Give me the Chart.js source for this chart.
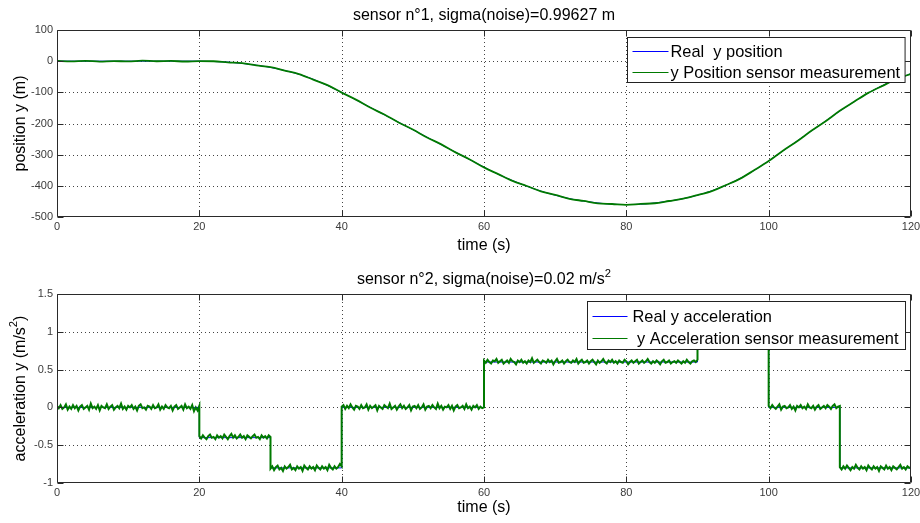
<!DOCTYPE html>
<html>
<head>
<meta charset="utf-8">
<title>Sensor simulation</title>
<script src="https://cdn.jsdelivr.net/npm/chart.js@4.4.1/dist/chart.umd.min.js"></script>
<style>
  html, body { margin: 0; padding: 0; background: #fff; }
  #wrap { position: relative; width: 920px; height: 523px; }
  canvas { position: absolute; left: 0; }
  #posChart { top: 0; }
  #accChart { top: 262px; }
</style>
</head>
<body>
<div id="wrap">
  <canvas id="posChart" width="920" height="262"></canvas>
  <canvas id="accChart" width="920" height="261"></canvas>
</div>
<script>
// ---- sensor 1 : y position (m), one sample every 2 s ----
const posStep = 2;
const posReal = [
  0, 0, 0, 0, 0, 0, 0, 0, 0, 0, 0,
  -1, -3, -7, -13, -20, -30, -42, -58, -78, -100,
  -124, -148, -172, -196, -220, -244, -268, -292, -316, -340,
  -363, -383, -401, -417, -430, -441, -449, -455, -459, -460,
  -459, -455, -449, -441, -430, -416, -398, -376, -350, -320,
  -288, -256, -224, -192, -160, -130, -102, -78, -58, -40
];
const posMeasured = [
  0.8, -0.6, 1.1, -1.3, 0.4, -0.9, 1.5, -0.2, 0.7, -1.1, 0.3,
  -0.2, -3.9, -6.5, -13.6, -19.1, -30.4, -41.7, -59.2, -76.9, -100.8,
  -123.3, -148.9, -171.2, -196.7, -219.4, -244.8, -267.1, -292.6, -315.3, -340.9,
  -362.4, -384.1, -400.5, -417.6, -429.2, -441.5, -448.6, -456.1, -458.3, -460.8,
  -458.1, -455.9, -448.7, -441.4, -429.6, -416.7, -397.4, -376.8, -349.3, -320.6,
  -287.4, -256.9, -223.5, -192.7, -159.4, -130.3, -101.8, -79.1, -57.2, -40.6
];

// ---- sensor 2 : y acceleration (m/s^2) ----
// command switches at these times, level holds until the next switch
const accSwitchTimes = [0, 20, 30, 40, 60, 90, 100, 110, 120];
const accReal = [0, -0.4, -0.8, 0, 0.6, 1, 0, -0.8, -0.8];
// noisy readings, every 0.25 s inside each constant-command interval
const accMeasured = [
  [0.02, -0.01, 0.03, -0.02, 0.00, 0.04, -0.03, 0.01, -0.02, 0.03,
   -0.01, 0.02, -0.04, 0.01, 0.03, -0.02, 0.00, 0.02, -0.03, 0.05,
   -0.01, 0.01, -0.02, 0.03, -0.04, 0.02, 0.00, -0.01, 0.04, -0.02,
   0.01, 0.03, -0.03, 0.00, 0.02, -0.01, 0.05, -0.02, 0.01, -0.03,
   0.02, 0.00, 0.03, -0.02, 0.01, -0.04, 0.02, 0.04, -0.01, 0.00,
   -0.03, 0.02, 0.01, -0.02, 0.03, -0.01, 0.00, 0.04, -0.03, 0.01,
   -0.02, 0.03, 0.00, -0.01, 0.02, -0.04, 0.01, 0.03, -0.02, 0.00,
   0.02, -0.03, 0.04, -0.01, 0.01, -0.02, 0.03, -0.05, 0.00, -0.04, 0.02],
  [-0.38, -0.41, -0.37, -0.40, -0.42, -0.38, -0.36, -0.40, -0.39, -0.42,
   -0.37, -0.40, -0.38, -0.41, -0.36, -0.39, -0.42, -0.38, -0.35, -0.40,
   -0.37, -0.41, -0.39, -0.36, -0.40, -0.38, -0.42, -0.37, -0.39, -0.41,
   -0.38, -0.36, -0.40, -0.39, -0.42, -0.37, -0.40, -0.38, -0.41, -0.37, -0.39],
  [-0.81, -0.78, -0.83, -0.79, -0.77, -0.82, -0.80, -0.84, -0.78, -0.81,
   -0.79, -0.76, -0.82, -0.80, -0.83, -0.78, -0.81, -0.79, -0.84, -0.77,
   -0.80, -0.82, -0.78, -0.81, -0.79, -0.83, -0.77, -0.80, -0.82, -0.78,
   -0.81, -0.79, -0.83, -0.76, -0.80, -0.82, -0.78, -0.81, -0.79, -0.75, -0.78],
  [0.01, 0.03, -0.02, 0.02, -0.01, 0.04, 0.00, -0.03, 0.02, 0.01,
   -0.02, 0.03, -0.01, 0.00, 0.04, -0.03, 0.02, -0.01, 0.01, 0.03,
   -0.04, 0.02, 0.00, -0.02, 0.03, 0.01, -0.01, 0.05, -0.02, 0.00,
   0.02, -0.03, 0.01, 0.04, -0.01, 0.02, -0.02, 0.00, 0.03, -0.04,
   0.01, 0.02, -0.01, 0.03, -0.02, 0.00, 0.04, -0.03, 0.01, 0.02,
   -0.01, 0.03, 0.00, -0.02, 0.05, -0.01, 0.02, -0.03, 0.01, 0.00,
   0.03, -0.02, 0.02, -0.04, 0.01, 0.03, -0.01, 0.00, 0.02, -0.02,
   0.04, -0.01, 0.01, -0.03, 0.02, 0.00, 0.03, -0.02, 0.01, -0.01, 0.00],
  [0.62, 0.59, 0.63, 0.60, 0.58, 0.62, 0.61, 0.64, 0.59, 0.61,
   0.63, 0.58, 0.60, 0.62, 0.59, 0.64, 0.61, 0.60, 0.57, 0.62,
   0.60, 0.63, 0.59, 0.61, 0.58, 0.62, 0.60, 0.65, 0.59, 0.61,
   0.63, 0.60, 0.58, 0.62, 0.61, 0.59, 0.63, 0.60, 0.62, 0.57,
   0.61, 0.64, 0.59, 0.60, 0.62, 0.58, 0.61, 0.63, 0.60, 0.59,
   0.62, 0.60, 0.64, 0.58, 0.61, 0.63, 0.59, 0.60, 0.62, 0.58,
   0.61, 0.63, 0.60, 0.57, 0.62, 0.59, 0.61, 0.64, 0.60, 0.58,
   0.62, 0.60, 0.63, 0.59, 0.61, 0.58, 0.62, 0.60, 0.59, 0.63,
   0.61, 0.57, 0.60, 0.62, 0.59, 0.61, 0.63, 0.58, 0.60, 0.62,
   0.59, 0.61, 0.64, 0.60, 0.58, 0.61, 0.59, 0.62, 0.60, 0.57,
   0.61, 0.63, 0.59, 0.60, 0.62, 0.58, 0.60, 0.61, 0.59, 0.62,
   0.60, 0.58, 0.61, 0.59, 0.63, 0.60, 0.58, 0.61, 0.62, 0.60, 0.63],
  [1.02, 0.99, 1.03, 0.98, 1.01, 0.97, 1.02, 1.00, 0.98, 1.03,
   0.99, 1.01, 0.97, 1.02, 1.00, 0.98, 1.01, 1.03, 0.99, 1.00,
   1.02, 0.98, 1.01, 0.99, 1.03, 0.97, 1.00, 1.02, 0.99, 1.01,
   0.98, 1.02, 1.00, 0.97, 1.01, 0.99, 1.03, 1.00, 0.98, 1.01, 0.99],
  [0.02, -0.01, 0.03, 0.00, -0.02, 0.01, 0.04, -0.03, 0.01, 0.02,
   -0.01, 0.00, 0.03, -0.02, 0.01, -0.04, 0.02, 0.00, 0.03, -0.01,
   0.01, -0.02, 0.04, 0.00, -0.01, 0.02, -0.03, 0.01, 0.03, -0.02,
   0.00, 0.02, -0.01, 0.03, 0.01, -0.02, 0.02, 0.04, -0.01, 0.01, 0.02],
  [-0.79, -0.82, -0.78, -0.81, -0.77, -0.80, -0.83, -0.79, -0.81, -0.76,
   -0.80, -0.82, -0.78, -0.81, -0.79, -0.83, -0.77, -0.80, -0.82, -0.78,
   -0.81, -0.79, -0.84, -0.78, -0.80, -0.82, -0.77, -0.81, -0.79, -0.83,
   -0.78, -0.80, -0.82, -0.79, -0.76, -0.81, -0.79, -0.82, -0.78, -0.80, -0.79]
];

const FONT = '"Liberation Sans", Arial, Helvetica, sans-serif';
const BLUE = '#0000ff';
const GREEN = '#007a00';

// build {x,y} points
const posRealPts = posReal.map((v, i) => ({ x: i * posStep, y: v }));
const posMeasPts = posMeasured.map((v, i) => ({ x: i * posStep, y: v }));
const accRealPts = accReal.map((v, i) => ({ x: accSwitchTimes[i], y: v }));
const accMeasPts = [];
accMeasured.forEach((seg, k) => {
  const t0 = accSwitchTimes[k], t1 = accSwitchTimes[k + 1];
  seg.forEach((v, i) => accMeasPts.push({ x: t0 + i * (t1 - t0) / (seg.length - 1), y: v }));
});

// text made of plain and superscript pieces
function richWidth(ctx, parts, size) {
  let w = 0;
  parts.forEach(p => {
    ctx.font = (p.sup ? size * 0.7 : size) + 'px ' + FONT;
    w += ctx.measureText(p.text).width;
  });
  return w;
}
function drawRich(ctx, parts, x, y, size, align) {
  const w = richWidth(ctx, parts, size);
  let cx = align === 'center' ? x - w / 2 : align === 'right' ? x - w : x;
  ctx.textAlign = 'left';
  parts.forEach(p => {
    ctx.font = (p.sup ? size * 0.7 : size) + 'px ' + FONT;
    ctx.fillText(p.text, cx, p.sup ? y - size * 0.45 : y);
    cx += ctx.measureText(p.text).width;
  });
}

// MATLAB-like axes box: dotted grid, inner ticks, labels, boxed legend
const figureDecor = {
  id: 'figureDecor',
  beforeDatasetsDraw(chart) {
    const { ctx, chartArea: a, scales: { x, y } } = chart;
    ctx.save();
    ctx.strokeStyle = '#444';
    ctx.lineWidth = 1;
    ctx.setLineDash([1, 3]);
    ctx.beginPath();
    x.ticks.forEach(t => {
      if (t.value <= x.min || t.value >= x.max) return;
      const px = Math.round(x.getPixelForValue(t.value)) + 0.5;
      ctx.moveTo(px, a.top); ctx.lineTo(px, a.bottom);
    });
    y.ticks.forEach(t => {
      if (t.value <= y.min || t.value >= y.max) return;
      const py = Math.round(y.getPixelForValue(t.value)) + 0.5;
      ctx.moveTo(a.left, py); ctx.lineTo(a.right, py);
    });
    ctx.stroke();
    ctx.restore();
  },
  afterDatasetsDraw(chart, args, o) {
    const { ctx, chartArea: a, scales: { x, y } } = chart;
    const L = Math.round(a.left) + 0.5, R = Math.round(a.right) - 0.5;
    const T = Math.round(a.top) + 0.5, B = Math.round(a.bottom) - 0.5;
    ctx.save();
    // frame and ticks
    ctx.strokeStyle = '#2a2a2a';
    ctx.lineWidth = 1;
    ctx.beginPath();
    ctx.rect(L, T, R - L, B - T);
    const tl = 6;
    x.ticks.forEach(t => {
      const px = Math.round(x.getPixelForValue(t.value)) + 0.5;
      ctx.moveTo(px, B); ctx.lineTo(px, B - tl);
      ctx.moveTo(px, T); ctx.lineTo(px, T + tl);
    });
    y.ticks.forEach(t => {
      const py = Math.round(y.getPixelForValue(t.value)) + 0.5;
      ctx.moveTo(L, py); ctx.lineTo(L + tl, py);
      ctx.moveTo(R, py); ctx.lineTo(R - tl, py);
    });
    ctx.stroke();

    // tick labels
    ctx.fillStyle = '#3a3a3a';
    ctx.font = '11px ' + FONT;
    ctx.textBaseline = 'middle';
    ctx.textAlign = 'center';
    x.ticks.forEach(t => ctx.fillText(t.label, x.getPixelForValue(t.value), a.bottom + 10));
    ctx.textAlign = 'right';
    y.ticks.forEach(t => ctx.fillText(t.label, a.left - 4, y.getPixelForValue(t.value)));

    // title and axis labels
    ctx.fillStyle = '#000';
    ctx.textBaseline = 'alphabetic';
    const cx = (a.left + a.right) / 2;
    drawRich(ctx, o.title, cx, a.top - 10, 16, 'center');
    drawRich(ctx, o.xLabel, cx, a.bottom + o.xLabelGap, 16, 'center');
    ctx.save();
    ctx.translate(o.yLabelX, (a.top + a.bottom) / 2);
    ctx.rotate(-Math.PI / 2);
    ctx.textBaseline = 'middle';
    drawRich(ctx, o.yLabel, 0, 0, 16, 'center');
    ctx.restore();

    // legend box in the upper right corner
    const lg = o.legend;
    ctx.font = '16.4px ' + FONT;
    const textW = Math.max(...chart.data.datasets.map(d => ctx.measureText(d.label).width));
    const w = lg.padL + lg.sample + lg.gap + textW + lg.padR;
    const x0 = Math.round(a.right - lg.right - w) + 0.5;
    const y0 = Math.round(a.top + lg.top) + 0.5;
    ctx.fillStyle = '#fff';
    ctx.fillRect(x0, y0, w, lg.height);
    ctx.strokeStyle = '#222';
    ctx.strokeRect(x0, y0, w, lg.height);
    ctx.textBaseline = 'middle';
    ctx.textAlign = 'left';
    lg.order.forEach((di, row) => {
      const ds = chart.data.datasets[di];
      const ry = Math.round(y0 + lg.rows[row]) + 0.5;
      ctx.strokeStyle = ds.borderColor;
      ctx.lineWidth = 1;
      ctx.beginPath();
      ctx.moveTo(x0 + lg.padL, ry);
      ctx.lineTo(x0 + lg.padL + lg.sample, ry);
      ctx.stroke();
      ctx.fillStyle = '#000';
      ctx.fillText(ds.label, x0 + lg.padL + lg.sample + lg.gap, ry + 1);
    });
    ctx.restore();
  }
};

function makeChart(id, cfg) {
  return new Chart(document.getElementById(id), {
    type: 'line',
    data: { datasets: cfg.datasets },
    plugins: [figureDecor],
    options: {
      responsive: false,
      animation: false,
      events: [],
      layout: { padding: { top: cfg.top, right: 9, bottom: 0, left: 0 } },
      elements: { point: { radius: 0 } },
      plugins: {
        legend: { display: false },
        tooltip: { enabled: false },
        figureDecor: cfg.decor
      },
      scales: {
        x: {
          type: 'linear', min: 0, max: 120,
          ticks: { stepSize: 20, display: false, callback: v => String(v) },
          grid: { display: false, drawTicks: false },
          border: { display: false },
          afterFit: s => { s.height = cfg.xAxisHeight; }
        },
        y: {
          type: 'linear', min: cfg.yMin, max: cfg.yMax,
          ticks: { stepSize: cfg.yStep, display: false, callback: v => String(v) },
          grid: { display: false, drawTicks: false },
          border: { display: false },
          afterFit: s => { s.width = 57; }
        }
      }
    }
  });
}

makeChart('posChart', {
  top: 30, xAxisHeight: 45, yMin: -500, yMax: 100, yStep: 100,
  datasets: [
    { label: 'Real  y position', data: posRealPts, borderColor: BLUE, borderWidth: 1,
      cubicInterpolationMode: 'monotone', order: 1 },
    { label: 'y Position sensor measurement', data: posMeasPts, borderColor: GREEN, borderWidth: 1.8,
      cubicInterpolationMode: 'monotone', order: 0 }
  ],
  decor: {
    title: [{ text: 'sensor n°1, sigma(noise)=0.99627 m' }],
    xLabel: [{ text: 'time (s)' }],
    xLabelGap: 33,
    yLabel: [{ text: 'position y (m)' }],
    yLabelX: 21,
    legend: { right: 6, top: 7, padL: 5, sample: 36, gap: 2, padR: 5, height: 45, rows: [13, 34], order: [0, 1] }
  }
});

makeChart('accChart', {
  top: 32, xAxisHeight: 40, yMin: -1, yMax: 1.5, yStep: 0.5,
  datasets: [
    { label: 'Real y acceleration', data: accRealPts, borderColor: BLUE, borderWidth: 1,
      stepped: true, order: 1 },
    { label: ' y Acceleration sensor measurement', data: accMeasPts, borderColor: GREEN, borderWidth: 2,
      order: 0 }
  ],
  decor: {
    title: [{ text: 'sensor n°2, sigma(noise)=0.02 m/s' }, { text: '2', sup: true }],
    xLabel: [{ text: 'time (s)' }],
    xLabelGap: 29,
    yLabel: [{ text: 'acceleration y (m/s' }, { text: '2', sup: true }, { text: ')' }],
    yLabelX: 21,
    legend: { right: 6, top: 7, padL: 5, sample: 35, gap: 5, padR: 7, height: 48, rows: [14, 36], order: [0, 1] }
  }
});
</script>
</body>
</html>
